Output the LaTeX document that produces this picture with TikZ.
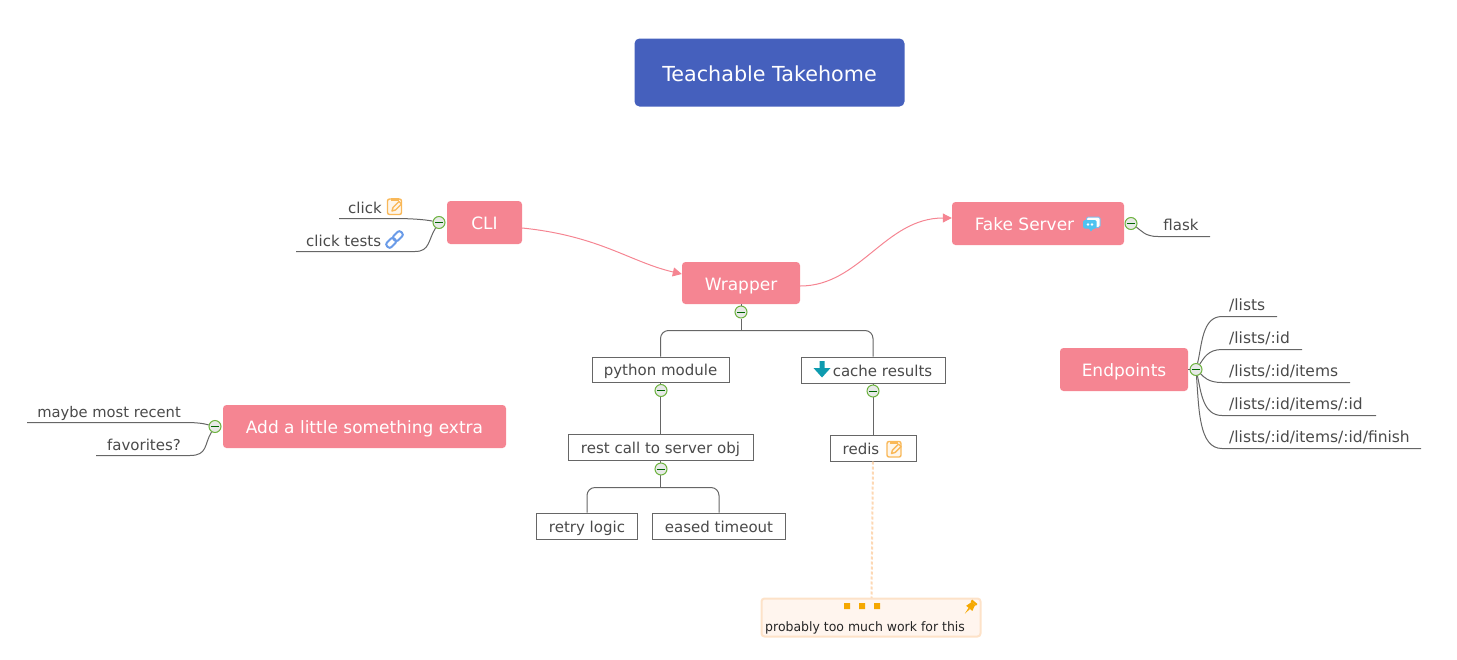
\documentclass[tikz,border=0pt]{standalone}
\usepackage{fontspec}
\setmainfont{DejaVu Sans}
\newfontfamily\notefont[FakeStretch=0.96]{DejaVu Sans}
\usetikzlibrary{arrows.meta}
\definecolor{rootc}{HTML}{4560BD}
\definecolor{pinkc}{HTML}{F58592}
\definecolor{linec}{HTML}{666666}
\definecolor{txtc}{HTML}{4A4A4A}
\definecolor{greenc}{HTML}{6DB33F}
\definecolor{noteo}{HTML}{F9B858}
\definecolor{notef}{HTML}{FFF5EE}
\definecolor{noteb}{HTML}{FDE2C8}
\definecolor{pinc}{HTML}{F5A800}
\definecolor{tealc}{HTML}{0E9BAF}
\definecolor{linkc}{HTML}{6A9BE8}
\definecolor{chatf}{HTML}{4FC3F0}
\definecolor{chatb}{HTML}{7FBCEB}
\tikzset{
  x=1pt,y=-1pt,
  rootbox/.style={draw=none,fill=rootc,rounded corners=5pt,text=white,font=\fontsize{20.7}{24}\selectfont,inner sep=0pt,text height=17pt,text depth=0pt},
  pinkbox/.style={draw=none,fill=pinkc,rounded corners=3.5pt,text=white,font=\fontsize{17}{20}\selectfont,inner sep=0pt,text height=14.3pt,text depth=0pt},
  subbox/.style={draw=linec,line width=1pt,fill=white,text=txtc,font=\fontsize{15}{18}\selectfont,inner sep=0pt,text height=12.6pt,text depth=0pt},
  plain/.style={text=txtc,font=\fontsize{15}{18}\selectfont,inner sep=0pt},
  pathlabel/.style={text=txtc,font=\fontsize{15.5}{18}\selectfont,inner sep=0pt},
  notebox/.style={draw=noteb,line width=2pt,fill=notef,rounded corners=3pt,inner sep=0pt},
  notetext/.style={text=black!85,font=\notefont\fontsize{13}{16}\selectfont,inner sep=0pt},
  tog/.style={circle,draw=greenc,line width=1pt,minimum size=12pt,inner sep=0pt,
     fill=green!4!gray!18,path picture={\draw[green!40!black,line width=1pt]
     ([xshift=-3.6pt]path picture bounding box.center)--([xshift=3.6pt]path picture bounding box.center);}},
  wire/.style={draw=linec,line width=1pt},
  rel/.style={draw=pinkc,line width=1pt,-{Triangle[length=9pt,width=9pt]}},
  dashlink/.style={draw=noteb!90!orange,line width=2pt,dash pattern=on 3pt off 2pt}
}
\newcommand{\noteicon}[2]{%
  \begin{scope}[shift={(#1,#2)}]
    \draw[noteo,line width=1.4pt,fill=noteo!12,rounded corners=2pt] (-7,-7.5) rectangle (7,8);
    \fill[noteo] (-4,-8.3) rectangle (4,-5.5);
    \draw[noteo,line width=1.4pt,line join=round] (-2.5,4.5) -- (-1.5,1) -- (4.5,-5) -- (7,-2.5) -- (1,3.5) -- cycle;
  \end{scope}}
\newcommand{\linkicon}[2]{%
  \begin{scope}[shift={(#1,#2)},rotate=45]
    \draw[linkc,line width=2pt,rounded corners=2.5pt] (-10,-3.2) rectangle (0.5,3.2);
    \draw[linkc,line width=2pt,rounded corners=2.5pt] (-0.5,-3.2) rectangle (10,3.2);
  \end{scope}}
\newcommand{\chaticon}[2]{%
  \begin{scope}[shift={(#1,#2)}]
    \fill[white,rounded corners=1.5pt] (-5,-7.5) rectangle (8.5,3);
    \draw[chatb,line width=1pt,rounded corners=1.5pt] (-5,-7.5) rectangle (8.5,3);
    \fill[chatf,rounded corners=1.5pt] (-8.5,-4.5) -- (5,-4.5) -- (5,4) -- (1.5,4) -- (-1,8) -- (-1.5,4) -- (-8.5,4) -- cycle;
    \fill[white] (-3.5,0) circle (1.3) (0.5,0) circle (1.3);
  \end{scope}}
\newcommand{\downicon}[2]{%
  \begin{scope}[shift={(#1,#2)}]
    \fill[tealc] (-2.5,-8.5) -- (2.5,-8.5) -- (2.5,-1.5) -- (8.5,-1.5) -- (0,8) -- (-8.5,-1.5) -- (-2.5,-1.5) -- cycle;
  \end{scope}}
\newcommand{\pinicon}[2]{%
  \begin{scope}[shift={(#1,#2)},rotate=-40,scale=1.15]
    \fill[pinc] (-3,-6.5) rectangle (3,-4.5);
    \fill[pinc] (-2,-4.5) -- (2,-4.5) -- (3.5,1) -- (-3.5,1) -- cycle;
    \fill[pinc] (-0.8,1) -- (0.8,1) -- (0,7) -- cycle;
  \end{scope}}
\begin{document}
\begin{tikzpicture}
\useasboundingbox (0,0) rectangle (1457,659);
% main boxes
\node[rootbox,minimum width=270pt,minimum height=68pt] (root) at (769.5,72.5) {Teachable Takehome};
\node[pinkbox,minimum width=75pt,minimum height=43pt] (cli) at (484.5,222.5) {CLI};
\node[pinkbox,minimum width=118pt,minimum height=42pt] (wrapper) at (741,283) {Wrapper};
\node[pinkbox,minimum width=172pt,minimum height=43pt] (fake) at (1038,223.5) {Fake Server\rule{27pt}{0pt}};
\node[pinkbox,minimum width=128pt,minimum height=43pt] (endp) at (1124,369.5) {Endpoints};
\node[pinkbox,minimum width=283pt,minimum height=43pt] (extra) at (364.5,426.5) {Add a little something extra};
% free ends
\coordinate (clickA) at (339,218.5);
\coordinate (clickB) at (296,251.5);
\coordinate (flaskA) at (1210,236.5);
\coordinate (mrA) at (27,422.5);
\coordinate (favA) at (96,455.5);
\coordinate (epA) at (1277,316.5);
\coordinate (epB) at (1302,349.5);
\coordinate (epC) at (1350,382.5);
\coordinate (epD) at (1376,415.5);
\coordinate (epE) at (1421,448.5);
% toggles
\node[tog] (tcli) at (439,222.5) {};
\node[tog] (tfake) at (1131,223.5) {};
\node[tog] (tendp) at (1196,369.5) {};
\node[tog] (textra) at (215,426.5) {};
\node[tog] (twrap) at (741,312) {};
% sub boxes
\node[subbox,minimum width=137pt,minimum height=25pt] (py) at (660.5,369.5) {python module};
\node[subbox,minimum width=144pt,minimum height=26pt] (cache) at (873,370) {\rule{19pt}{0pt}cache results};
\node[subbox,minimum width=185pt,minimum height=26pt] (rest) at (660.5,447) {rest call to server obj};
\node[subbox,minimum width=86pt,minimum height=26pt] (redis) at (873,448) {redis\rule{24pt}{0pt}};
\node[subbox,minimum width=101pt,minimum height=26pt] (retry) at (587,526) {retry logic};
\node[subbox,minimum width=133pt,minimum height=26pt] (eased) at (719,526) {eased timeout};
% connectors
\path[rel] ([yshift=-5.5pt]cli.east) .. controls (600,236) and (630,262) .. ([yshift=9pt]wrapper.west);
\path[rel] ([yshift=-3pt]wrapper.east) .. controls (860,286) and (885,218) .. ([yshift=5.5pt]fake.west);
\draw[wire] (tcli) .. controls (425,219.5) and (410,218.5) .. (395,218.5) -- (clickA);
\draw[wire] (tcli) .. controls (428,240) and (430,251.5) .. (415,251.5) -- (clickB);
\draw[wire] (tfake) .. controls (1142,231) and (1145,236.5) .. (1158,236.5) -- (flaskA);
\draw[wire] (textra) .. controls (205,424) and (200,422.5) .. (185,422.5) -- (mrA);
\draw[wire] (textra) .. controls (204,444) and (208,455.5) .. (190,455.5) -- (favA);
\draw[wire] (tendp) .. controls (1202,345) and (1202,316.5) .. (1222,316.5) -- (epA);
\draw[wire] (tendp) .. controls (1204,358) and (1208,349.5) .. (1222,349.5) -- (epB);
\draw[wire] (tendp) .. controls (1204,377) and (1208,382.5) .. (1222,382.5) -- (epC);
\draw[wire] (tendp) .. controls (1201,392) and (1203,415.5) .. (1222,415.5) -- (epD);
\draw[wire] (tendp) .. controls (1199,410) and (1199,448.5) .. (1222,448.5) -- (epE);
\draw[wire] (endp.east) -- (tendp);
\draw[wire] (wrapper.south) -- (twrap);
\draw[wire] (twrap) -- (741,330.5);
\draw[wire,rounded corners=8pt] (py.north -| 660.5,0) |- (741,330.5) -| (cache.north);
\draw[wire] (py.south -| 660.5,0) -- (rest.north -| 660.5,0);
\draw[wire] (cache.south) -- (redis.north);
\draw[wire] (rest.south -| 660.5,0) -- (660.5,487.5);
\draw[wire,rounded corners=8pt] (retry.north) |- (660.5,487.5) -| (eased.north);
% toggles over lines
\node[tog] (tpy) at (661,390.5) {};
\node[tog] (tcache) at (873,391) {};
\node[tog] (trest) at (661,469) {};
% plain labels
\node[plain,anchor=base west] (click) at (348,213) {click};
\node[plain,anchor=base west] (clickt) at (306,246) {click tests};
\node[plain,anchor=base] (flask) at (1181,230) {flask};
\node[plain,anchor=base east,font=\fontsize{14.7}{18}\selectfont] (mr) at (181,417) {maybe most recent};
\node[plain,anchor=base east] (fav) at (181,450) {favorites?};
\node[pathlabel,anchor=base west] (l1) at (1229,310) {/lists};
\node[pathlabel,anchor=base west] (l2) at (1229,343) {/lists/:id};
\node[pathlabel,anchor=base west] (l3) at (1229,376) {/lists/:id/items};
\node[pathlabel,anchor=base west] (l4) at (1229,409) {/lists/:id/items/:id};
\node[pathlabel,anchor=base west] (l5) at (1229,442) {/lists/:id/items/:id/finish};
% note
\draw[dashlink] (redis.south) -- (871.5,598);
\node[notebox,minimum width=219pt,minimum height=38pt] (note) at (871,617.5) {};
\node[notetext,anchor=base west] (notet) at (765,631) {probably too much work for this};
\fill[pinc] (844,603) rectangle (850,609) (859,603) rectangle (865,609) (874,603) rectangle (880,609);
% icons
\noteicon{394.5}{206.5}
\linkicon{394.5}{239.5}
\chaticon{1091.5}{224.5}
\downicon{822}{369.5}
\noteicon{894}{449}
\pinicon{970}{607.5}
\end{tikzpicture}
\end{document}
